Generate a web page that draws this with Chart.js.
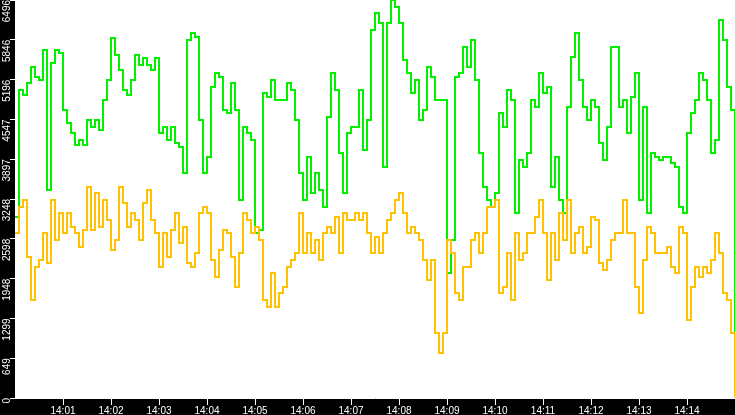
<!DOCTYPE html>
<html>
<head>
<meta charset="utf-8">
<script src="https://cdn.jsdelivr.net/npm/chart.js@4"></script>
<style>
  html, body { margin:0; padding:0; background:#000; }
  #wrap { width:735px; height:415px; position:relative; }
</style>
</head>
<body>
<div id="wrap"><canvas id="chart"></canvas></div>
<script>
// samples every 5 seconds starting 14:00:00
const sampleSec = 5;
const tickSeconds = [60,120,180,240,300,360,420,480,540,600,660,720,780,840];
const tickLabels = ['14:01','14:02','14:03','14:04','14:05','14:06','14:07','14:08','14:09','14:10','14:11','14:12','14:13','14:14'];
const yTickValues = [0,649.6,1299.2,1948.8,2598.4,3248,3897.6,4547.2,5196.8,5846.4,6496];

const greenValues = [
  2954,5027,4945,5141,5402,5239,5190,5679,3395,5467,5679,5630,4700,4488,4325,4129,4211,4129,4537,4423,4537,4374,4863,5190,5875,5598,5353,5027,4945,5190,5598,5435,5549,5435,5353,5549,
  4325,4423,4211,4423,4162,4096,3672,5843,5957,5892,4537,3672,3933,5076,5304,5239,4700,4651,5141,4700,3231,4423,4325,4211,2693,2742,4978,4912,5190,4863,4863,4863,5141,5027,4537,3672,
  3231,3933,3346,3672,3395,3117,4586,5304,5027,3998,3346,4325,4423,4423,5027,4047,4537,6006,6283,6120,3770,6120,6496,6381,6120,5516,5304,4978,5190,4537,4700,5402,5239,4863,4863,4863,
  2040,2579,5239,5304,5728,5402,5843,5190,3998,3444,3231,3117,3346,4651,4423,5027,4863,3019,3884,3770,3998,4863,4749,5304,4978,5076,3444,3933,3231,3019,4749,5565,5957,5190,4749,4537,
  4863,4749,4162,3884,4423,5728,5728,4749,4863,4325,4912,5304,3231,4749,3019,3998,3933,3884,3933,3933,3835,3770,3117,3019,4325,4651,4863,5304,5190,4863,3998,4211,6169,5843,5076,4700,620
];
const yellowValues = [
  2693,3117,3231,2301,1599,2138,2252,2693,2203,3231,2579,3019,2693,3019,2791,2693,2464,2742,3444,2742,3346,2791,3231,2905,2415,2579,3444,3182,2791,3019,2905,2579,3182,3395,2905,2693,
  2138,2693,2301,2742,3019,2530,2791,2203,2138,2366,3019,3117,3019,2252,1975,2415,2742,2693,2301,1812,2366,3019,2905,2693,2791,2579,1599,1485,2040,1485,1714,1812,2138,2252,2366,3019,
  2366,2693,2366,2579,2252,2693,2791,2693,2954,2366,3019,2905,2905,3019,2905,3019,2693,2366,2628,2366,2693,2905,3019,3231,3346,3019,2693,2791,2693,2579,2252,1926,2252,1061,734,1061,
  2579,2366,1714,1599,2138,2138,2579,2693,2366,2693,3117,3117,3231,1714,1812,2366,1599,2693,2252,2366,2693,2693,2954,3231,2693,1926,2693,2252,3019,2579,3231,2366,2693,2791,2366,2464,
  2954,2905,2203,2089,2252,2579,2693,2693,3231,2693,2693,1812,1387,2252,2791,2693,2366,2366,2366,2464,2138,2040,2791,2693,1273,1812,2138,1975,2138,2040,2252,2693,2366,1714,1599,1061,16
];

function toPoints(vals){ return vals.map((v,i)=>({x:i*sampleSec, y:v})); }

// black frame, white plot area
const bgPlugin = {
  id:'bg',
  beforeDraw(chart){
    const {ctx, chartArea:a, width, height} = chart;
    ctx.save();
    ctx.fillStyle = '#000';
    ctx.fillRect(0,0,width,height);
    ctx.fillStyle = '#fff';
    ctx.fillRect(a.left,a.top,a.right-a.left,a.bottom-a.top);
    ctx.restore();
  }
};

Chart.defaults.font.family = '"Liberation Sans", Arial, sans-serif';
Chart.defaults.font.size = 10;
Chart.defaults.color = '#fff';

new Chart(document.getElementById('chart').getContext('2d'), {
  type:'line',
  data:{datasets:[
    {label:'yellow', data:toPoints(yellowValues), borderColor:'#ffc200', borderWidth:2, pointRadius:0, stepped:true, order:0},
    {label:'green', data:toPoints(greenValues), borderColor:'#00f000', borderWidth:2, pointRadius:0, stepped:true, order:1}
  ]},
  options:{
    responsive:true, maintainAspectRatio:false, animation:false,
    layout:{padding:0},
    plugins:{legend:{display:false}, tooltip:{enabled:false}},
    scales:{
      x:{
        type:'linear', min:0, max:900,
        afterBuildTicks(s){ s.ticks = tickSeconds.map(v=>({value:v})); },
        afterFit(s){ s.height = 17; s.paddingLeft = 0; s.paddingRight = 0; },
        ticks:{color:'#fff', padding:0, maxRotation:0, autoSkip:false,
          callback:(v)=> tickLabels[tickSeconds.indexOf(v)] },
        grid:{drawOnChartArea:false, color:'#fff', tickLength:7},
        border:{color:'#fff', width:1}
      },
      y:{
        min:0, max:6496,
        afterBuildTicks(s){ s.ticks = yTickValues.map(v=>({value:v})); },
        afterFit(s){ s.width = 15; s.paddingTop = 0; s.paddingBottom = 0; },
        ticks:{color:'#fff', padding:3, minRotation:90, maxRotation:90, autoSkip:false,
          callback:(v)=> String(Math.floor(v)) },
        grid:{drawOnChartArea:false, color:'#fff', tickLength:5},
        border:{color:'#fff', width:1}
      }
    }
  },
  plugins:[bgPlugin]
});
</script>
</body>
</html>
